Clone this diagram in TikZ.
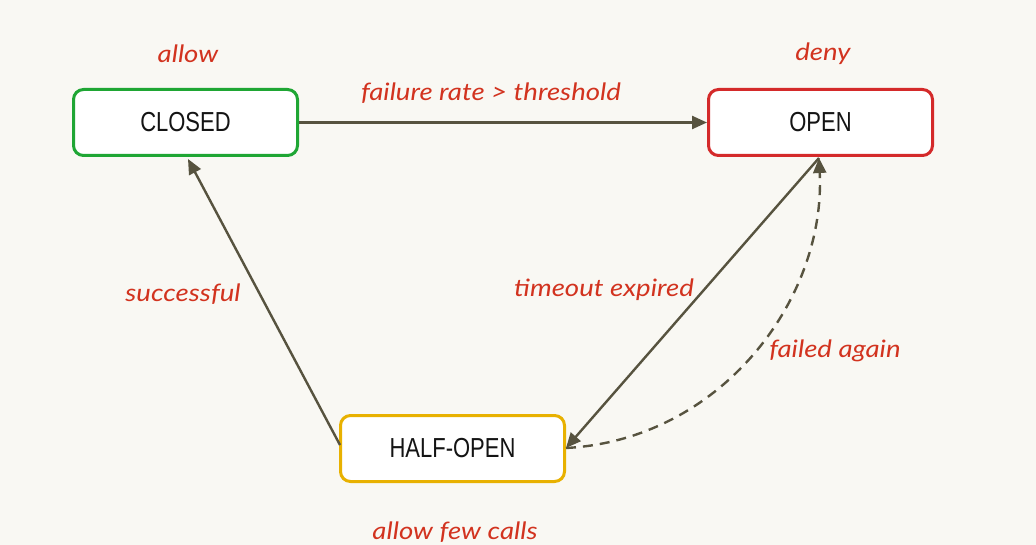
\documentclass[tikz,border=0pt]{standalone}
\usepackage{fontspec}
\setmainfont{Liberation Sans}
\newfontfamily\boxfont[FakeStretch=0.8]{Liberation Sans}
\newfontfamily\handfont[FakeStretch=1.15]{Lato}
\usetikzlibrary{arrows.meta}
\definecolor{bg}{HTML}{F9F8F3}
\definecolor{cgreen}{HTML}{1FA634}
\definecolor{cred}{HTML}{D42A2A}
\definecolor{cyellow}{HTML}{E8B100}
\definecolor{clabel}{HTML}{D2331F}
\definecolor{cline}{HTML}{57533F}
\definecolor{ctext}{HTML}{141414}
\tikzset{
  state/.style={draw, line width=3pt, rounded corners=10pt, fill=white,
    minimum width=224pt, minimum height=66pt, inner sep=0pt,
    font=\boxfont\fontsize{27.5}{27.5}\selectfont, text=ctext},
  lbl/.style={font=\handfont\itshape\fontsize{24}{24}\selectfont, text=clabel, inner sep=0pt},
  conn/.style={draw=cline, line width=2.4pt, -{Triangle[length=15pt,width=13pt]}},
  dconn/.style={conn, dash pattern=on 10pt off 7pt}
}
\begin{document}
\begin{tikzpicture}[x=1pt,y=-1pt]
\fill[bg] (0,0) rectangle (1036,545);
\useasboundingbox (0,0) rectangle (1036,545);

\node[state, draw=cgreen] (closed) at (185.5,122.5) {CLOSED};
\node[state, draw=cred] (open) at (820.5,122.5) {OPEN};
\node[state, draw=cyellow] (half) at (452.5,448.5) {HALF-OPEN};

\node[lbl] (lallow) at (188,54) {allow};
\node[lbl] (ldeny) at (823,54) {deny};
\node[lbl] (lfail) at (491,93) {failure rate > threshold};
\node[lbl] (lsucc) at (183,294) {successful};
\node[lbl] (ltime) at (604,290) {timeout expired};
\node[lbl] (lagain) at (835,351) {failed again};
\node[lbl] (lfew) at (455,532) {allow few calls};

\coordinate (hl) at (340,445);
\coordinate (cb) at (188,159);
\coordinate (ob) at (819,158);
\coordinate (hr) at (566,448);

\draw[conn] (closed.east) -- (open.west);
\draw[conn] (hl) -- (cb);
\draw[conn] (ob) -- (hr);
\draw[dconn] (hr) .. controls (720,440) and (826,300) .. (ob);
\end{tikzpicture}
\end{document}
